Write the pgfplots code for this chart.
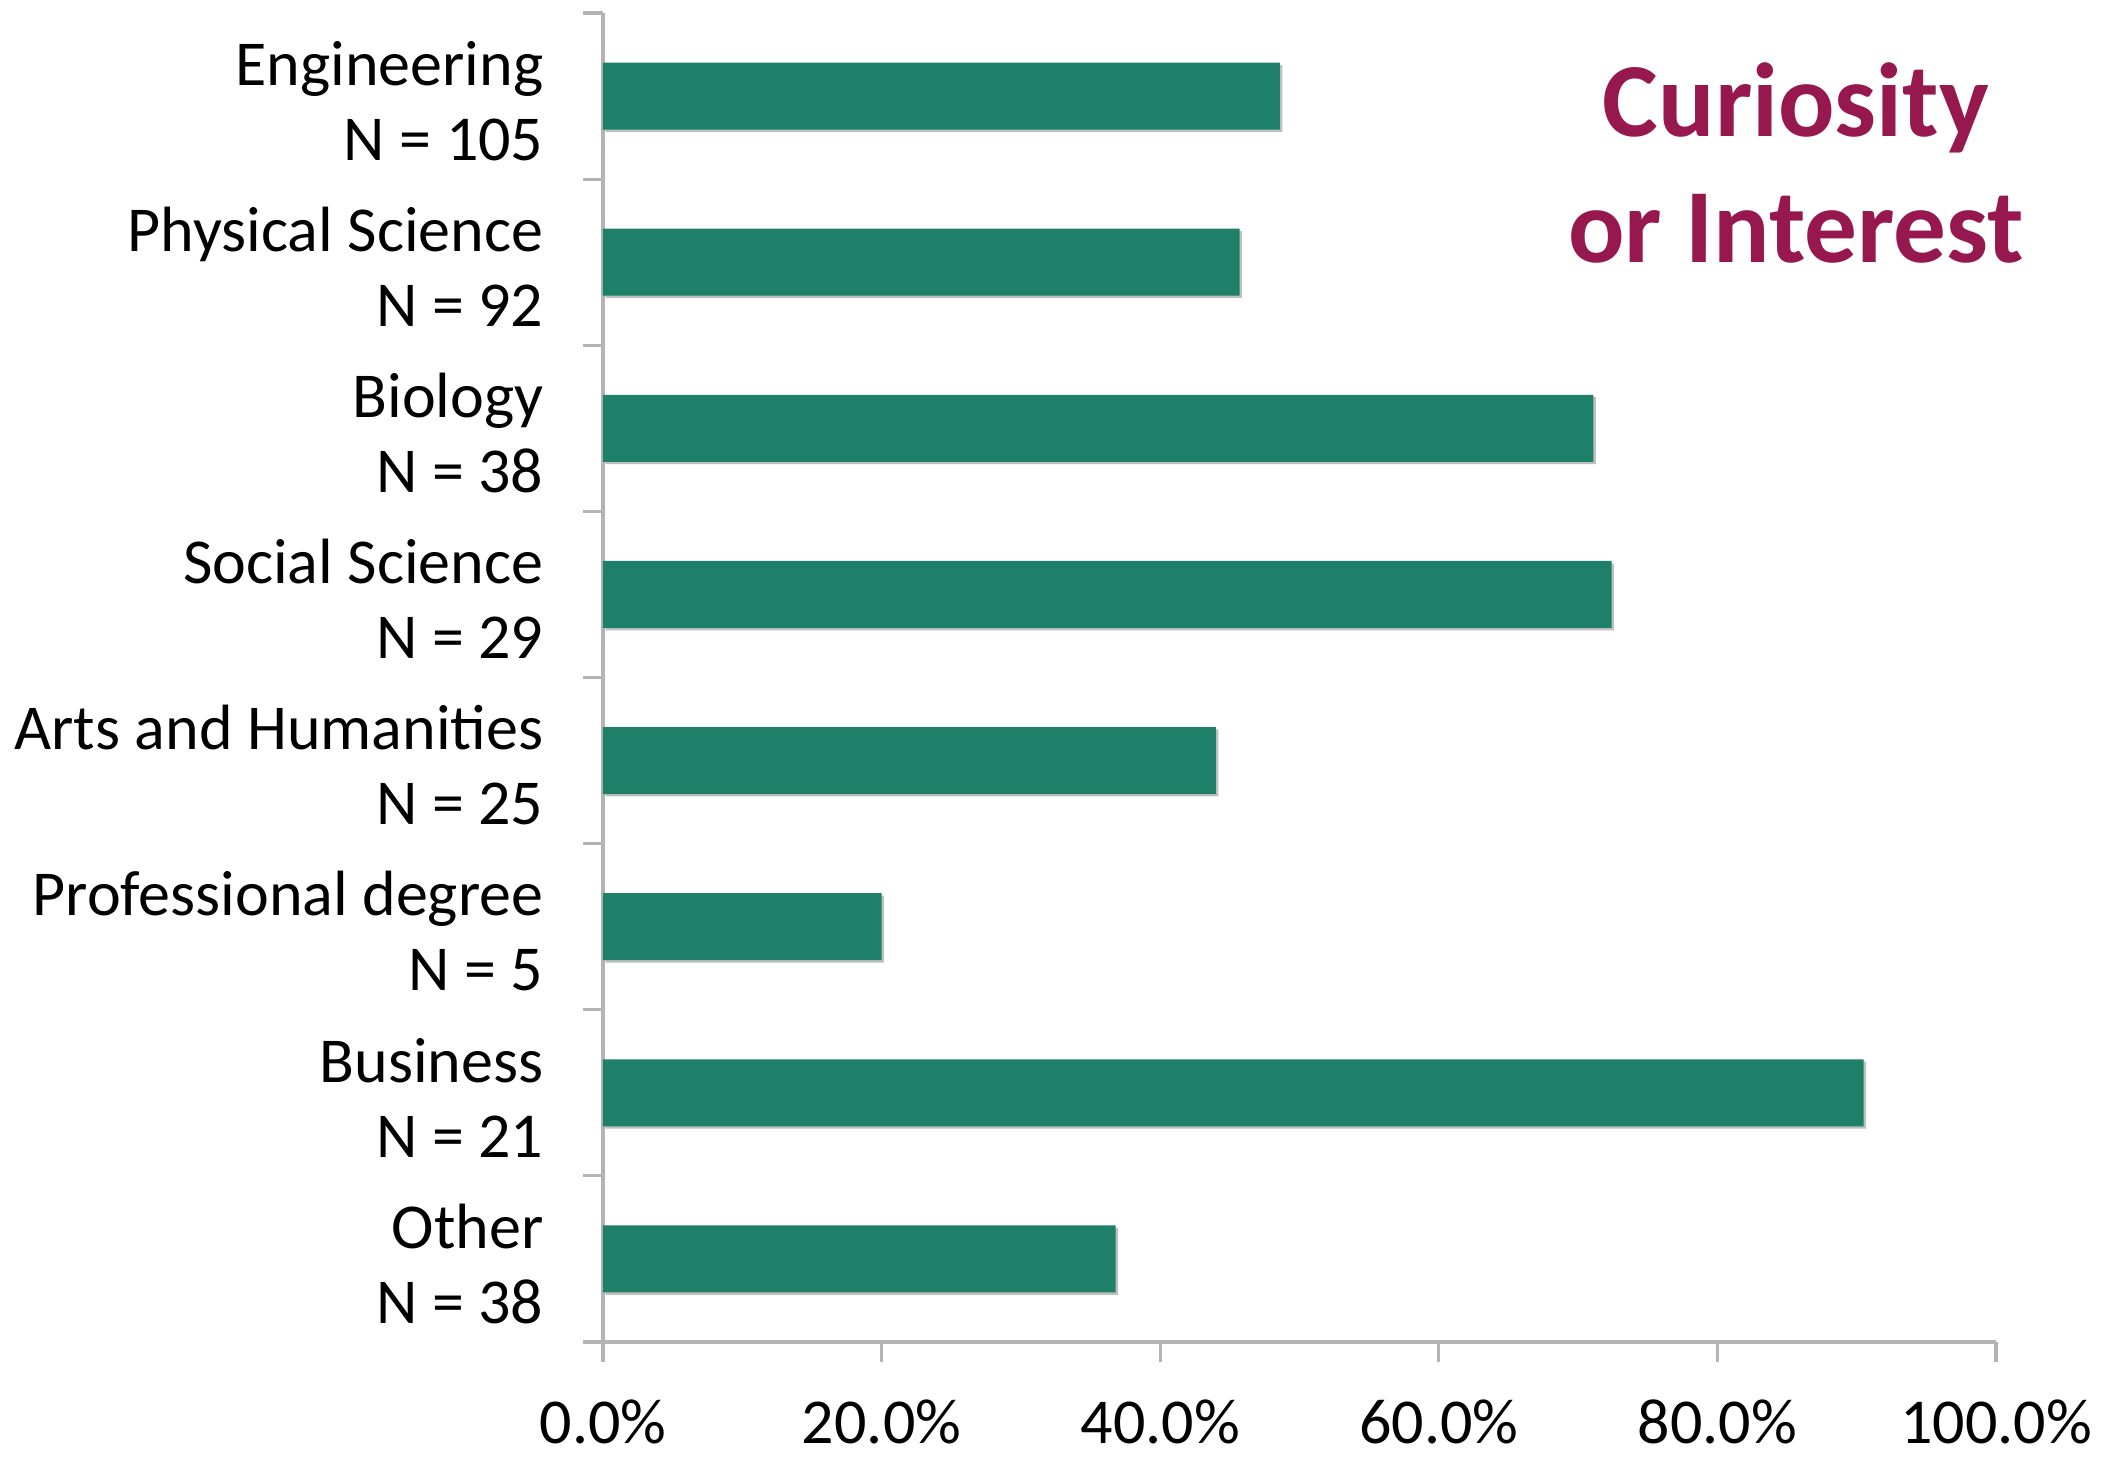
\documentclass[border=0pt]{standalone}
\usepackage{pgfplots}
\pgfplotsset{compat=1.18}
\usepackage{fontspec}
\setmainfont{Carlito}
\usetikzlibrary{shadows}
\definecolor{barcol}{RGB}{30,128,104}
\definecolor{titcol}{RGB}{151,23,79}
\definecolor{axcol}{RGB}{180,180,180}
\begin{document}
\begin{tikzpicture}
\begin{axis}[
  at={(0,0)}, anchor=south west,
  scale only axis, width=696.5pt, height=664.5pt,
  xbar, bar width=33.5pt,
  xmin=0, xmax=100, ymin=-0.5, ymax=7.5,
  axis x line*=bottom, axis y line*=left,
  axis line style={-, draw=axcol, line width=1.6pt},
  tick align=outside,
  xtick={0,20,40,60,80,100},
  xticklabels={0.0\%,20.0\%,40.0\%,60.0\%,80.0\%,100.0\%},
  x tick style={draw=axcol, line width=1.6pt},
  major tick length=10pt, minor tick length=10pt,
  ytick={0,...,7},
  yticklabels={{Other\\N = 38},{Business\\N = 21},{Professional degree\\N = 5},{Arts and Humanities\\N = 25},{Social Science\\N = 29},{Biology\\N = 38},{Physical Science\\N = 92},{Engineering\\N = 105}},
  major y tick style={draw=none},
  minor ytick={-0.5,0.5,...,7.5},
  minor y tick style={draw=axcol, line width=1.6pt},
  yticklabel style={align=right, font=\fontsize{32}{37.5}\selectfont, xshift=-16.3pt, yshift=-2.4pt},
  xticklabel style={font=\fontsize{32}{37.5}\selectfont, anchor=base, inner sep=0pt, yshift=-40.5pt},
  clip=false,
]
\addplot[draw=none, fill=barcol, drop shadow={shadow xshift=1.2pt, shadow yshift=-1.2pt, opacity=0.25, fill=black}] coordinates {
(36.8,0) (90.5,1) (20.0,2) (44.0,3) (72.4,4) (71.1,5) (45.7,6) (48.6,7)};
\end{axis}
\node[text=titcol, font=\bfseries\fontsize{52.6}{63}\selectfont, align=center] at (596.5pt,589.5pt) {Curiosity\\or Interest};
\path (-301.5pt,-57.5pt) rectangle (751pt,671pt);
\end{tikzpicture}
\end{document}
